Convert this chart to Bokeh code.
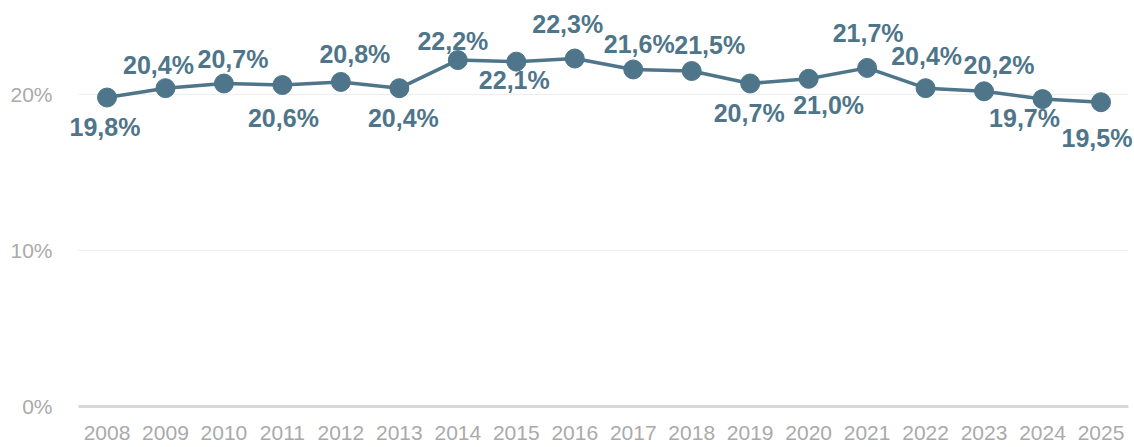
from bokeh.plotting import figure
from bokeh.models import ColumnDataSource, LabelSet, FixedTicker, CustomJSTickFormatter
from bokeh.core.properties import value
from bokeh.embed import file_html
from bokeh.resources import INLINE

years = list(range(2008, 2026))
values = [19.8, 20.4, 20.7, 20.6, 20.8, 20.4, 22.2, 22.1, 22.3, 21.6, 21.5, 20.7, 21.0, 21.7, 20.4, 20.2, 19.7, 19.5]
labels = ["19,8%", "20,4%", "20,7%", "20,6%", "20,8%", "20,4%", "22,2%", "22,1%", "22,3%",
          "21,6%", "21,5%", "20,7%", "21,0%", "21,7%", "20,4%", "20,2%", "19,7%", "19,5%"]
y_ticks = [0, 10, 20]
grid_values = [10, 20]

# label offsets in screen pixels (style only): dx right, dy up
label_dx = [-2, -7, 9, 1, 14, 4, -5, -2, -7, 6, 18, -1, 20, 1, 1, 15, -18, -4]
label_dy = [-29, 23, 24, -33, 28, -30, 19, -18, 35, 25, 26, -30, -26, 35, 32, 26, -19, -36]

COLOR = "#4e7589"
X0, X1 = 2007.5126, 2025.47

src = ColumnDataSource(dict(x=years, y=values, lab=labels, dy=label_dy, dx=label_dx))

p = figure(width=1134, height=447, output_backend="svg", toolbar_location=None,
           x_range=(2007.1705, 2025.573), y_range=(-0.2, 26.02),
           min_border_left=58, min_border_right=0, min_border_top=0, min_border_bottom=38)
p.outline_line_color = None
p.background_fill_color = "white"

# gridlines and baseline
p.segment(x0=[X0] * len(grid_values), x1=[X1] * len(grid_values), y0=grid_values, y1=grid_values,
          line_color="#ececec", line_width=1)
p.segment(x0=[X0], x1=[X1], y0=[0], y1=[0], line_color="#d9d9d9", line_width=3)

p.line("x", "y", source=src, line_color=COLOR, line_width=3.5)
p.scatter("x", "y", source=src, size=19, fill_color=COLOR, line_color=COLOR)

ls = LabelSet(x="x", y="y", text="lab", source=src, y_offset="dy", x_offset="dx",
              text_align="center", text_baseline="middle",
              text_font=value("Liberation Sans"), text_font_style="bold",
              text_font_size="25px", text_color=COLOR)
p.add_layout(ls)

p.xaxis.ticker = FixedTicker(ticks=years)
p.xaxis.axis_line_color = None
p.xaxis.major_tick_line_color = None
p.xaxis.minor_tick_line_color = None
p.xaxis.major_tick_out = 0
p.xaxis.major_tick_in = 0
p.xaxis.major_label_standoff = 16
p.xaxis.major_label_text_font = "Liberation Sans"
p.xaxis.major_label_text_font_size = "21px"
p.xaxis.major_label_text_color = "#aaaaaa"

p.yaxis.ticker = FixedTicker(ticks=y_ticks)
p.yaxis.formatter = CustomJSTickFormatter(code="return tick + '%';")
p.yaxis.axis_line_color = None
p.yaxis.major_tick_line_color = None
p.yaxis.minor_tick_line_color = None
p.yaxis.major_tick_out = 0
p.yaxis.major_tick_in = 0
p.yaxis.major_label_standoff = 6
p.yaxis.major_label_text_font = "Liberation Sans"
p.yaxis.major_label_text_font_size = "21px"
p.yaxis.major_label_text_color = "#aaaaaa"

p.xgrid.grid_line_color = None
p.ygrid.grid_line_color = None

open("out.html", "w").write(file_html(p, INLINE))
